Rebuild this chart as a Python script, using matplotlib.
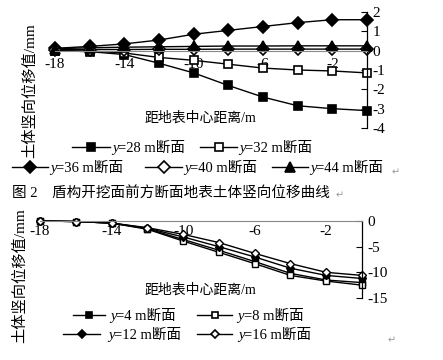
import matplotlib.pyplot as plt
from matplotlib.lines import Line2D

plt.rcParams['font.family'] = ['Liberation Serif', 'Noto Sans CJK SC']

# distance from surface centre (m)
x = [-18, -16, -14, -12, -10, -8, -6, -4, -2, 0]

# figure 2: sections ahead of the shield face
top_series = {
    28: [0.0, -0.05, -0.2, -0.65, -1.15, -1.8, -2.4, -2.85, -3.0, -3.1],
    32: [0.0, -0.02, -0.12, -0.35, -0.5, -0.7, -0.9, -1.0, -1.05, -1.15],
    36: [0.12, 0.22, 0.35, 0.55, 0.85, 1.05, 1.25, 1.45, 1.6, 1.6],
    40: [0.05, 0.06, 0.06, 0.07, 0.07, 0.08, 0.08, 0.08, 0.08, 0.08],
    44: [0.1, 0.15, 0.18, 0.2, 0.22, 0.24, 0.24, 0.25, 0.25, 0.25],
}
top_markers = {28: ('s', 'k'), 32: ('s', 'w'), 36: ('D', 'k'), 40: ('D', 'w'), 44: ('^', 'k')}

# lower chart sections
bot_series = {
    4: [0.0, -0.1, -0.4, -1.5, -3.6, -5.7, -7.9, -10.2, -11.5, -12.0],
    8: [0.0, -0.1, -0.4, -1.6, -3.9, -6.1, -8.3, -10.6, -11.7, -12.5],
    12: [0.0, -0.1, -0.4, -1.4, -3.1, -5.0, -7.0, -9.2, -10.6, -11.2],
    16: [0.0, -0.1, -0.4, -1.3, -2.6, -4.2, -6.3, -8.3, -10.0, -10.6],
}
bot_markers = {4: ('s', 'k'), 8: ('s', 'w'), 12: ('D', 'k'), 16: ('D', 'w')}

W, H = 443, 360
fig = plt.figure(figsize=(W / 100, H / 100), dpi=100)


def style(ax, yticks, xpad):
    for s in ('left', 'top'):
        ax.spines[s].set_visible(False)
    ax.spines['bottom'].set_position(('data', 0))
    ax.spines['bottom'].set_color('#888888')
    ax.spines['bottom'].set_linewidth(0.8)
    ax.spines['right'].set_linewidth(0.9)
    ax.yaxis.tick_right()
    ax.set_yticks(yticks)
    ax.set_xticks([-18, -14, -10, -6, -2])
    ax.set_xticklabels(['-18', '-14', '-10', '-6', '-2'])
    ax.set_yticklabels([str(v) for v in yticks])
    ax.tick_params(axis='y', direction='in', length=4, labelsize=11, pad=4)
    ax.tick_params(axis='x', length=0, labelsize=11, pad=xpad)
    ax.set_xlim(-18, 0)


def legend_entry(ax, x0, x1, xt, y, marker, fc, ms, k):
    # hand-made legend item: line with marker, italic y, then the rest
    yf = 1 - y / H
    xm = (x0 + x1) / 2
    fig.add_artist(Line2D([x0 / W, xm / W, x1 / W], [yf, yf, yf], transform=fig.transFigure,
                          color='k', lw=1.0, marker=marker, ms=ms, mfc=fc, mec='k', mew=1.2,
                          markevery=[1]))
    t = fig.text(xt / W, yf, 'y', style='italic', fontsize=10.5, ha='left', va='center_baseline')
    ax.annotate('=%d m断面' % k, xy=(1, 0), xycoords=t, ha='left', va='bottom',
                fontsize=10.5, annotation_clip=False)


ax1 = fig.add_axes([55 / W, 1 - 128 / H, 312 / W, 116 / H])
for k, vals in top_series.items():
    m, fc = top_markers[k]
    ax1.plot(x, vals, color='k', lw=1.0, marker=m, ms=6 if m != '^' else 6.5,
             mfc=fc, mec='k', mew=1.2, clip_on=False)
ax1.set_ylim(-4, 2)
style(ax1, [2, 1, 0, -1, -2, -3, -4], 5)

ax2 = fig.add_axes([40 / W, 1 - 298 / H, 322 / W, 77 / H])
for k, vals in bot_series.items():
    m, fc = bot_markers[k]
    ax2.plot(x, vals, color='k', lw=1.0, marker=m, ms=4, mfc=fc, mec='k', mew=1.0,
             clip_on=False)
ax2.set_ylim(-15, 0)
style(ax2, [0, -5, -10, -15], 3)

# axis titles placed as in the scan
fig.text(200 / W, 1 - 118 / H, '距地表中心距离/m', ha='center', va='center', fontsize=10)
fig.text(200 / W, 1 - 290 / H, '距地表中心距离/m', ha='center', va='center', fontsize=10)
fig.text(30 / W, 1 - 91 / H, '土体竖向位移值/mm', rotation=90, ha='center', va='center', fontsize=11)
fig.text(20 / W, 1 - 276 / H, '土体竖向位移值/mm', rotation=90, ha='center', va='center', fontsize=11)

# legends of the upper chart
top_leg = [(28, 72, 110, 112, 147), (32, 200, 237, 239, 147),
           (36, 12, 48, 50, 167), (40, 145, 182, 184, 167), (44, 272, 308, 310, 167)]
for k, x0, x1, xt, y in top_leg:
    m, fc = top_markers[k]
    legend_entry(ax1, x0, x1, xt, y, m, fc, 6.5 if m == '^' else 6, k)

fig.text(12 / W, 1 - 193 / H, '图 2    盾构开挖面前方断面地表土体竖向位移曲线', ha='left', va='center',
         fontsize=10.5)
fig.text(336 / W, 1 - 195 / H, '↵', ha='left', va='center', fontsize=7, color='#999999',
         family='DejaVu Sans')
fig.text(396 / W, 1 - 172 / H, '↵', ha='center', va='center', fontsize=7, color='#999999',
         family='DejaVu Sans')

# legends of the lower chart
bot_leg = [(4, 73, 105, 110, 315), (8, 197, 232, 237, 315),
           (12, 63, 100, 108, 334), (16, 197, 232, 238, 334)]
for k, x0, x1, xt, y in bot_leg:
    m, fc = bot_markers[k]
    legend_entry(ax2, x0, x1, xt, y, m, fc, 4.5, k)
fig.text(392 / W, 1 - 340 / H, '↵', ha='center', va='center', fontsize=7, color='#999999',
         family='DejaVu Sans')

fig.savefig('out.png', dpi=100)
